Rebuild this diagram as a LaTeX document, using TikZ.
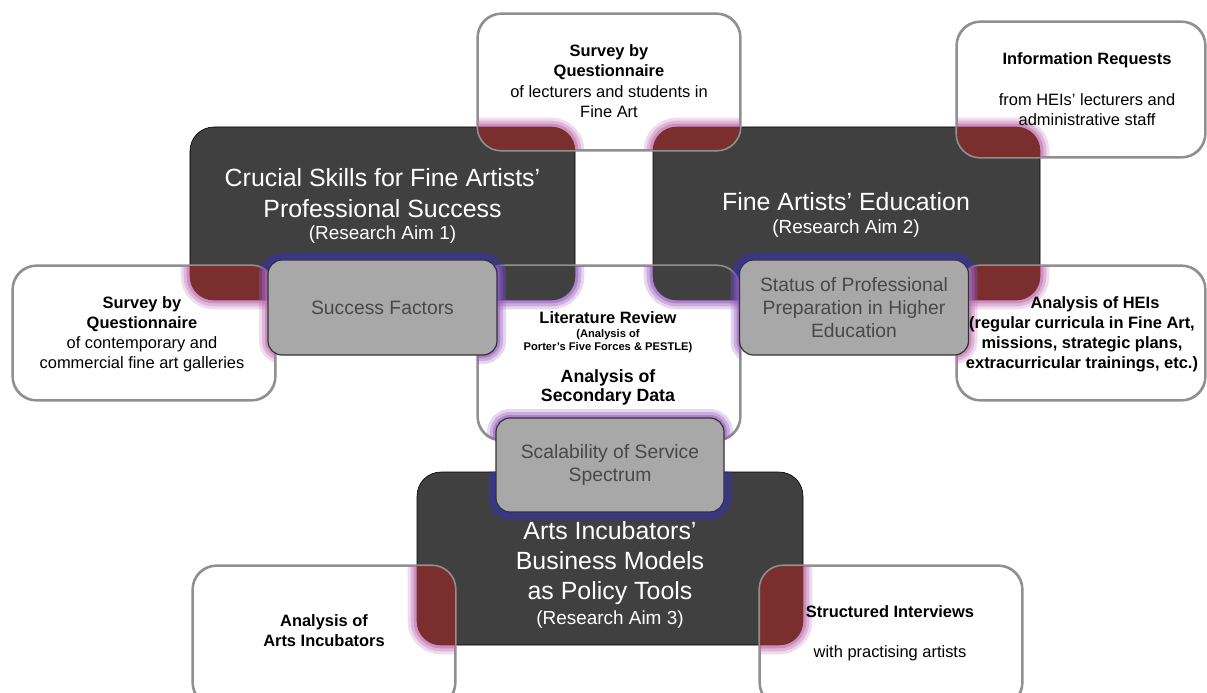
\documentclass[tikz,border=0pt]{standalone}
\usepackage{fontspec}
\setmainfont{Liberation Sans}
\usetikzlibrary{positioning,calc}
\definecolor{darkbox}{HTML}{404040}
\definecolor{overred}{HTML}{7A2E2E}
\definecolor{pinkglow}{HTML}{C070B0}
\definecolor{blueglow}{HTML}{3A30B0}
\definecolor{purpglow}{HTML}{9A60C0}
\definecolor{graybox}{HTML}{A8A8A8}
\definecolor{graytext}{HTML}{484848}
\definecolor{wborder}{HTML}{909090}
\tikzset{
  darkstyle/.style={rectangle, rounded corners=24bp, fill=darkbox, draw=black, line width=0.6bp, minimum width=#1, minimum height=173bp, inner sep=0pt},
  whitestyle/.style={rectangle, rounded corners=24bp, fill=white, draw=wborder, line width=1.6bp, minimum width=#1, inner sep=0pt},
  graystyle/.style={rectangle, rounded corners=14bp, fill=graybox, draw=black!80, line width=1.2bp, minimum width=229bp, minimum height=95bp, inner sep=0pt},
  darktext/.style={text=white, align=center, font=\fontsize{25}{30.5}\selectfont, inner sep=0pt},
  aimtext/.style={text=white, align=center, font=\fontsize{19}{22}\selectfont, inner sep=0pt},
  headtext/.style={text=black, align=center, font=\bfseries\fontsize{16.5}{20}\selectfont, inner sep=0pt},
  bodytext/.style={text=black, align=center, font=\fontsize{16.5}{20}\selectfont, inner sep=0pt},
  smalltext/.style={text=black, align=center, font=\bfseries\fontsize{11.2}{13.5}\selectfont, inner sep=0pt},
  graytxt/.style={text=graytext, align=center, font=\fontsize{19.4}{23}\selectfont, inner sep=0pt},
}
\newcommand{\rbox}[1]{(#1.south west) rectangle (#1.north east)}
\newcommand{\glowpath}[3]{%
  \foreach \lw/\op in {18/0.25, 12/0.35, 6/0.55}{%
    \draw[draw=#1, line width=\lw bp, opacity=\op, rounded corners=#2] #3;}}
\begin{document}
\begin{tikzpicture}[x=1bp,y=-1bp]
\useasboundingbox[fill=white] (0,0) rectangle (1207,693);
% dark boxes
\node[darkstyle=385bp] (d1) at (382.5,213.5) {};
\node[darkstyle=387bp] (d2) at (846.5,213.5) {};
\node[darkstyle=386bp] (d3) at (610,558.5) {};
% white boxes
\node[whitestyle=262bp, minimum height=136bp] (wt) at (609,82) {};
\node[whitestyle=248bp, minimum height=135bp] (wtr) at (1081,89.5) {};
\node[whitestyle=262bp, minimum height=134bp] (wl) at (144,333) {};
\node[whitestyle=248bp, minimum height=134bp] (wr) at (1081,333) {};
\node[whitestyle=262bp, minimum height=174bp] (wc) at (609,353) {};
\node[whitestyle=262bp, minimum height=140bp] (wbl) at (324,636) {};
\node[whitestyle=262bp, minimum height=140bp] (wbr) at (891,636) {};
% overlaps white x dark: dark red with pink glow
\foreach \w/\d in {wt/d1, wt/d2, wtr/d2, wl/d1, wr/d2, wbl/d3, wbr/d3}{
  \begin{scope}
    \clip[rounded corners=24bp] \rbox{\w};
    \glowpath{pinkglow}{24bp}{\rbox{\d}}
    \fill[overred, rounded corners=24bp] \rbox{\d};
  \end{scope}
}
% center box overlaps: dark with purple glow
\foreach \d in {d1, d2}{
  \begin{scope}
    \clip[rounded corners=24bp] \rbox{wc};
    \glowpath{purpglow}{24bp}{\rbox{\d}}
    \fill[darkbox, rounded corners=24bp] \rbox{\d};
  \end{scope}
}
% redraw white borders
\foreach \w in {wt, wtr, wl, wr, wc, wbl, wbr}{
  \draw[wborder, line width=1.6bp, rounded corners=24bp] \rbox{\w};
}
% gray box centres
\coordinate (csf) at (382.5,307.5);
\coordinate (cst) at (854,307.5);
\coordinate (csc) at (610,465);
% glows around gray boxes
\begin{scope}
  \clip[rounded corners=24bp] \rbox{d1};
  \glowpath{blueglow}{14bp}{($(csf)+(-114.5,-47.5)$) rectangle ($(csf)+(114.5,47.5)$)}
\end{scope}
\begin{scope}
  \clip[rounded corners=24bp] \rbox{d2};
  \glowpath{blueglow}{14bp}{($(cst)+(-114.5,-47.5)$) rectangle ($(cst)+(114.5,47.5)$)}
\end{scope}
\begin{scope}
  \clip[rounded corners=24bp] \rbox{wl};
  \glowpath{pinkglow}{14bp}{($(csf)+(-114.5,-47.5)$) rectangle ($(csf)+(114.5,47.5)$)}
\end{scope}
\begin{scope}
  \clip[rounded corners=24bp] \rbox{wr};
  \glowpath{pinkglow}{14bp}{($(cst)+(-114.5,-47.5)$) rectangle ($(cst)+(114.5,47.5)$)}
\end{scope}
\begin{scope}
  \clip[rounded corners=24bp] \rbox{wc};
  \glowpath{purpglow}{14bp}{($(csc)+(-114,-47)$) rectangle ($(csc)+(114,47)$)}
  \glowpath{purpglow}{14bp}{($(csf)+(-114.5,-47.5)$) rectangle ($(csf)+(114.5,47.5)$)}
  \glowpath{purpglow}{14bp}{($(cst)+(-114.5,-47.5)$) rectangle ($(cst)+(114.5,47.5)$)}
\end{scope}
\begin{scope}
  \clip[rounded corners=24bp] \rbox{d3};
  \glowpath{blueglow}{14bp}{($(csc)+(-114,-47)$) rectangle ($(csc)+(114,47)$)}
\end{scope}
% gray boxes
\node[graystyle] (gsf) at (csf) {};
\node[graystyle] (gst) at (cst) {};
\node[graystyle, minimum width=228bp, minimum height=94bp] (gsc) at (csc) {};
% texts dark boxes
\node[darktext] (t1) at (382.5,193) {Crucial Skills for Fine Artists'\\Professional Success};
\node[aimtext] (a1) at (382.5,235) {(Research Aim 1)};
\node[darktext] (t2) at (846,202) {Fine Artists' Education};
\node[aimtext] (a2) at (846,229) {(Research Aim 2)};
\node[darktext] (t3) at (610,563) {Arts Incubators'\\Business Models\\as Policy Tools};
\node[aimtext] (a3) at (610,620) {(Research Aim 3)};
% gray texts
\node[graytxt] (s1) at (gsf) {Success Factors};
\node[graytxt] (s2) at (gst) {Status of Professional\\Preparation in Higher\\Education};
\node[graytxt] (s3) at (gsc) {Scalability of Service\\Spectrum};
% white box texts
\node[headtext] (h1) at (609,62) {Survey by\\Questionnaire};
\node[bodytext] (b1) at (609,102) {of lecturers and students in\\Fine Art};
\node[headtext] (h2) at (1087,60) {Information Requests};
\node[bodytext] (b2) at (1087,110) {from HEIs' lecturers and\\administrative staff};
\node[headtext] (h3) at (142,314) {Survey by\\Questionnaire};
\node[bodytext] (b3) at (142,354) {of contemporary and\\commercial fine art galleries};
\node[headtext] (h4) at (1095,304) {Analysis of HEIs};
\node[headtext] (b4) at (1082,344) {(regular curricula in Fine Art,\\missions, strategic plans,\\extracurricular trainings, etc.)};
\node[headtext, font=\bfseries\fontsize{16.5}{20}\selectfont] (h5) at (608,318) {Literature Review};
\node[smalltext] (b5) at (608,341) {(Analysis of\\Porter's Five Forces \& PESTLE)};
\node[headtext, font=\bfseries\fontsize{17.8}{19.5}\selectfont] (h6) at (608,387.5) {Analysis of\\Secondary Data};
\node[headtext] (h7) at (324,631) {Analysis of\\Arts Incubators};
\node[headtext] (h8) at (890,612) {Structured Interviews};
\node[bodytext] (b8) at (890,653) {with practising artists};
\end{tikzpicture}
\end{document}
